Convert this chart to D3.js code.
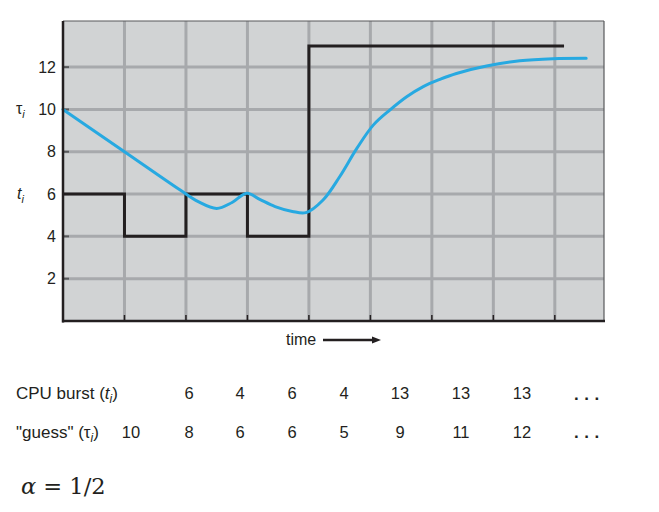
<!DOCTYPE html>
<html>
<head>
<meta charset="utf-8">
<script src="https://cdn.jsdelivr.net/npm/d3@7/dist/d3.min.js"></script>
<style>
  html, body { margin: 0; padding: 0; background: #fff; }
  svg text { font-family: "Liberation Sans", Arial, sans-serif; fill: #231f20; }
</style>
</head>
<body>
<svg id="chart" width="659" height="512"></svg>
<script>
// ---- data ----
const yTicks = [2, 4, 6, 8, 10, 12];
const timeGrid = [1, 2, 3, 4, 5, 6, 7, 8];
// CPU burst step line (value holds from time i to next)
const burstTimes  = [0, 1, 2, 3, 4, 8.15];
const burstValues = [6, 4, 6, 4, 13, 13];
// smoothed "guess" curve
const guessT   = [0, 1, 1.9, 2.2, 2.5, 2.75, 2.99, 3.2, 3.45, 3.73, 3.95, 4.23, 4.5, 4.78, 5.05, 5.32, 5.59, 5.86, 6.13, 6.4, 6.89, 7.43, 7.97, 8.51];
const guessTau = [10, 8, 6.2, 5.64, 5.32, 5.6, 6.04, 5.75, 5.41, 5.18, 5.12, 5.72, 6.82, 8.16, 9.27, 9.98, 10.6, 11.08, 11.42, 11.7, 12.05, 12.3, 12.4, 12.42];
// table rows
const burstRow = ["", "6", "4", "6", "4", "13", "13", "13"];
const guessRow = ["10", "8", "6", "6", "5", "9", "11", "12"];

// ---- layout (column centres of the table, in pixels) ----
const colCentres = [131, 189, 240, 292, 344, 400, 461, 522];
const dotsX = 574;

const svg = d3.select("#chart");
const x = d3.scaleLinear().domain([0, 8.8]).range([63, 604]);
const y = d3.scaleLinear().domain([0, 14.18]).range([321, 21]);
const colX = d3.scaleOrdinal().domain(d3.range(colCentres.length)).range(colCentres);

const X0 = x(0), X1 = x(8.8), Y0 = y(0), Y1 = y(14.18);

// background
svg.append("rect").attr("x", X0).attr("y", Y1).attr("width", X1 - X0).attr("height", Y0 - Y1)
  .attr("fill", "#d1d3d4");

// grid
svg.append("g").selectAll("line").data(yTicks).join("line")
  .attr("x1", X0).attr("x2", X1).attr("y1", d => y(d)).attr("y2", d => y(d))
  .attr("stroke", "#a7a9ac").attr("stroke-width", 3);
svg.append("g").selectAll("line").data(timeGrid).join("line")
  .attr("x1", d => x(d)).attr("x2", d => x(d)).attr("y1", Y1).attr("y2", Y0)
  .attr("stroke", "#a7a9ac").attr("stroke-width", 3);

// frame
svg.append("line").attr("x1", X0).attr("x2", X1).attr("y1", Y1).attr("y2", Y1)
  .attr("stroke", "#58595b").attr("stroke-width", 1.2);
svg.append("line").attr("x1", X1).attr("x2", X1).attr("y1", Y1).attr("y2", Y0)
  .attr("stroke", "#58595b").attr("stroke-width", 1.2);

// ticks
svg.append("g").selectAll("line").data(timeGrid).join("line")
  .attr("x1", d => x(d)).attr("x2", d => x(d)).attr("y1", Y0).attr("y2", Y0 - 6)
  .attr("stroke", "#231f20").attr("stroke-width", 1.5);
svg.append("g").selectAll("line").data(yTicks).join("line")
  .attr("x1", X0).attr("x2", X0 + 6).attr("y1", d => y(d)).attr("y2", d => y(d))
  .attr("stroke", "#58595b").attr("stroke-width", 2);

// y axis labels
const yAxis = d3.axisLeft(y).tickValues(yTicks).tickSize(0).tickPadding(7);
const ga = svg.append("g").attr("transform", `translate(${X0},0)`).call(yAxis);
ga.select(".domain").remove();
ga.selectAll("text").style("font-size", "16px").attr("fill", "#231f20")
  .style("font-family", '"Liberation Sans", Arial, sans-serif');

// burst step line
const stepLine = d3.line().x(d => x(d[0])).y(d => y(d[1])).curve(d3.curveStepAfter);
svg.append("path").datum(d3.zip(burstTimes, burstValues))
  .attr("d", stepLine).attr("fill", "none")
  .attr("stroke", "#231f20").attr("stroke-width", 3).attr("stroke-linejoin", "miter");

// guess curve
const smooth = d3.line().x(d => x(d[0])).y(d => y(d[1])).curve(d3.curveCatmullRom.alpha(0.5));
svg.append("path").datum(d3.zip(guessT, guessTau))
  .attr("d", smooth).attr("fill", "none")
  .attr("stroke", "#27a9e1").attr("stroke-width", 3).attr("stroke-linecap", "round");

// axes lines (thick left & bottom)
svg.append("line").attr("x1", X0).attr("x2", X0).attr("y1", Y1).attr("y2", Y0 + 1.5)
  .attr("stroke", "#231f20").attr("stroke-width", 2.5);
svg.append("line").attr("x1", X0 - 1).attr("x2", X1 + 1).attr("y1", Y0).attr("y2", Y0)
  .attr("stroke", "#231f20").attr("stroke-width", 2.5);

// side labels tau_i, t_i
function sub(el, main, subscr, italicMain) {
  const t = el.append("tspan").text(main);
  if (italicMain) t.style("font-style", "italic");
  el.append("tspan").text(subscr).attr("dy", 4).style("font-size", "11px").style("font-style", "italic");
}
const tl = svg.append("text").attr("x", 16).attr("y", y(10) + 5).style("font-size", "16px");
sub(tl, "\u03c4", "i", false);
const tl2 = svg.append("text").attr("x", 17).attr("y", y(6) + 5).style("font-size", "16px");
sub(tl2, "t", "i", true);

// time arrow
svg.append("text").attr("x", 286).attr("y", 345).text("time").style("font-size", "16px");
svg.append("line").attr("x1", 323).attr("x2", 374).attr("y1", 340).attr("y2", 340)
  .attr("stroke", "#231f20").attr("stroke-width", 2.5);
svg.append("path").attr("d", "M372,336.5 L381,340 L372,343.5 Z").attr("fill", "#231f20");

// table
function rowLabel(yy, pre, main, italicMain) {
  const t = svg.append("text").attr("x", 16).attr("y", yy).style("font-size", "17px");
  t.append("tspan").text(pre);
  const m = t.append("tspan").text(main);
  if (italicMain) m.style("font-style", "italic");
  t.append("tspan").text("i").attr("dy", 4).style("font-size", "12px").style("font-style", "italic");
  t.append("tspan").text(")").attr("dy", -4);
}
rowLabel(399, "CPU burst (", "t", true);
rowLabel(438, "\"guess\" (", "\u03c4", false);

svg.append("g").selectAll("text").data(burstRow).join("text")
  .attr("x", (d, i) => colX(i)).attr("y", 399)
  .attr("text-anchor", "middle").style("font-size", "16.5px")
  .text(d => d);
svg.append("g").selectAll("text").data(guessRow).join("text")
  .attr("x", (d, i) => colX(i)).attr("y", 438)
  .attr("text-anchor", "middle").style("font-size", "16.5px")
  .text(d => d);

// ellipses
[400, 438].forEach(yy => {
  svg.append("text").attr("x", dotsX).attr("y", yy).text("...")
    .style("font-size", "17px").style("font-weight", "bold").style("letter-spacing", "5.5px");
});

// alpha
const at = svg.append("text").attr("x", 21).attr("y", 494)
  .style("font-family", '"DejaVu Serif", "Liberation Serif", serif').style("font-size", "22.5px");
at.append("tspan").text("\u03b1").style("font-style", "italic");
at.append("tspan").text(" = 1/2");
</script>
</body>
</html>
